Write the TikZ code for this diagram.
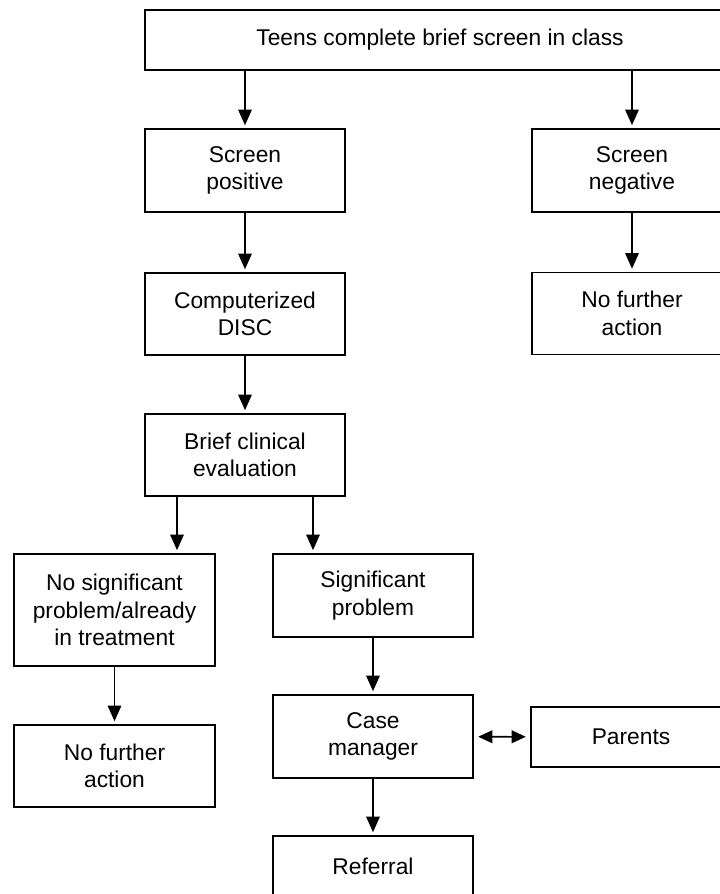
\documentclass[tikz,border=0pt]{standalone}
\usepackage{fontspec}
\setmainfont{Liberation Sans}
\usetikzlibrary{arrows.meta}
\begin{document}
\begin{tikzpicture}[x=0.025cm, y=-0.025cm,
        box/.style={draw, line width=1.4pt, align=center, inner sep=0pt,
            minimum width=5cm, minimum height=2.075cm,
            font=\fontsize{16.2}{19.5}\selectfont},
        arr/.style={-{Triangle[width=9.5pt,length=11pt]}, line width=1.2pt, shorten >=2pt},
        dbl/.style={{Triangle[width=9pt,length=10pt]}-{Triangle[width=9pt,length=10pt]},
            line width=1.1pt, shorten >=3pt, shorten <=3pt}]
        \useasboundingbox (0,0) rectangle (720,894);
        \clip (0,0) rectangle (720,894);
        \node[box, minimum width=14.75cm, minimum height=1.5cm] (teens) at (440,40) {Teens complete brief screen in class};
        \node[box] (pos) at (245,170.5) {Screen\\positive};
        \node[box] (neg) at (632,170.5) {Screen\\negative};
        \node[box, minimum height=2.05cm] (disc) at (245,314) {Computerized\\DISC};
        \node[box, minimum height=2.05cm] (nfaright) at (632,313.5) {No further\\action};
        \node[box, minimum height=2.05cm] (brief) at (245,455) {Brief clinical\\evaluation};
        \node[box, minimum height=2.8cm] (nosig) at (114.5,610) {No significant\\problem/already\\in treatment};
        \node[box] (sig) at (373,595.5) {Significant\\problem};
        \node[box, minimum height=2.05cm] (nfaleft) at (114.5,766) {No further\\action};
        \node[box] (case) at (373,736.5) {Case\\manager};
        \node[box, minimum height=1.5cm] (parents) at (631,737) {Parents};
        \node[box, minimum height=1.5cm] (referral) at (373,866) {Referral};
        \draw[arr] (pos.north |- teens.south) -- (pos.north);
        \draw[arr] (neg.north |- teens.south) -- (neg.north);
        \draw[arr] (pos) -- (disc);
        \draw[arr] (neg) -- (nfaright);
        \draw[arr] (disc) -- (brief);
        \draw[arr] ([xshift=0.825cm]brief.south west) -- ([xshift=0.825cm]brief.south west |- nosig.north);
        \draw[arr] ([xshift=-0.825cm]brief.south east) -- ([xshift=-0.825cm]brief.south east |- sig.north);
        \draw[arr] (nosig) -- (nfaleft);
        \draw[arr] (sig) -- (case);
        \draw[dbl] (case) -- (parents);
        \draw[arr] (case) -- (referral);
\end{tikzpicture}
\end{document}
